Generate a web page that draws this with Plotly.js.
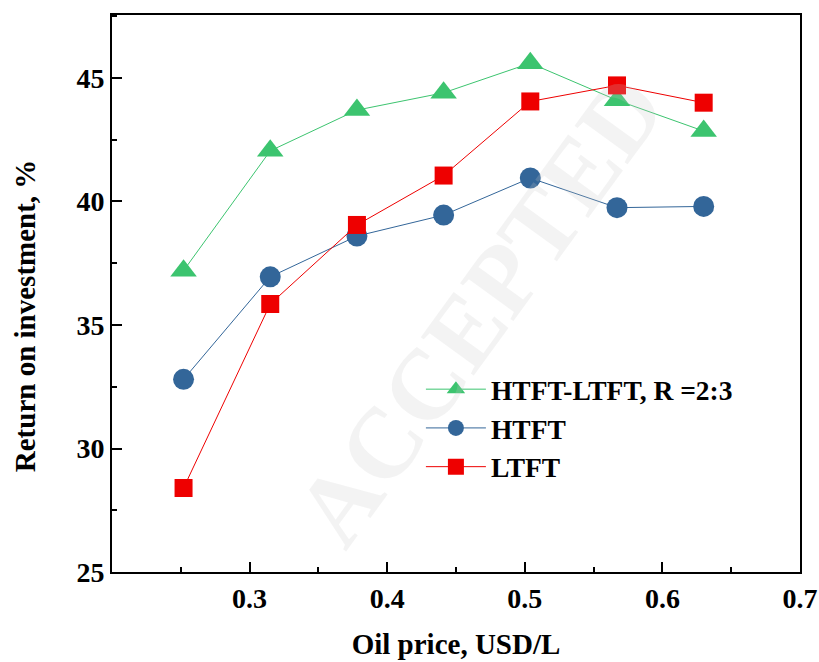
<!DOCTYPE html>
<html><head><meta charset="utf-8">
<script src="https://cdn.plot.ly/plotly-3.0.1.min.js"></script>
<style>html,body{margin:0;padding:0;background:#fff}#chart{width:819px;height:662px}</style>
</head><body><div id="chart"></div>
<script>
const oilPrice = [0.252, 0.315, 0.378, 0.441, 0.504, 0.567, 0.630];
const hybridROI = [37.2, 42.05, 43.7, 44.4, 45.6, 44.1, 42.85];
const htftROI = [32.8, 36.95, 38.6, 39.45, 40.95, 39.75, 39.8];
const ltftROI = [28.4, 35.85, 39.05, 41.05, 44.05, 44.7, 44.0];
const seriesNames = ['HTFT-LTFT, R =2:3', 'HTFT', 'LTFT'];
const xTicks = [0.3, 0.4, 0.5, 0.6, 0.7];
const yTicks = [25, 30, 35, 40, 45];

const fam = 'Liberation Serif, Times New Roman, serif';
const bf = (s) => ({family: fam, color: '#000', weight: 700, size: s});
const b = (t) => '<b>' + t + '</b>';
const traces = [
  {x: oilPrice, y: hybridROI, name: b(seriesNames[0]), mode: 'lines+markers',
   line: {color: '#3cc46f', width: 1}, marker: {symbol: 'triangle-up', size: 23, color: '#3cc46f'}},
  {x: oilPrice, y: htftROI, name: b(seriesNames[1]), mode: 'lines+markers',
   line: {color: '#336699', width: 1}, marker: {symbol: 'circle', size: 21, color: '#336699'}},
  {x: oilPrice, y: ltftROI, name: b(seriesNames[2]), mode: 'lines+markers',
   line: {color: '#ee0000', width: 1}, marker: {symbol: 'square', size: 18, color: '#ee0000'}}
];
const layout = {
  width: 819, height: 662,
  margin: {l: 112, r: 19, t: 15, b: 90},
  paper_bgcolor: '#fff', plot_bgcolor: '#fff',
  font: bf(26),
  showlegend: true,
  legend: {x: 0.449, y: 0.372, xanchor: 'left', yanchor: 'top', bgcolor: 'rgba(0,0,0,0)',
    font: bf(27.5), tracegroupgap: 0, itemwidth: 60},
  xaxis: {range: [0.2, 0.7], tickvals: xTicks, ticktext: xTicks.map(v => b(v.toFixed(1))),
    ticks: 'inside', ticklen: 10, tickwidth: 2, tickcolor: '#000',
    minor: {dtick: 0.05, tick0: 0.2, ticks: 'inside', ticklen: 5, tickwidth: 2, tickcolor: '#000'},
    showline: true, linewidth: 2, linecolor: '#000', mirror: true, showgrid: false, zeroline: false,
    tickfont: bf(28),
    title: {text: b('Oil price, USD/L'), font: bf(29), standoff: 21}},
  yaxis: {range: [25, 47.55], tickvals: yTicks, ticktext: yTicks.map(v => b(String(v))),
    ticks: 'inside', ticklen: 10, tickwidth: 2, tickcolor: '#000',
    minor: {dtick: 2.5, tick0: 25, ticks: 'inside', ticklen: 5, tickwidth: 2, tickcolor: '#000'},
    showline: true, linewidth: 2, linecolor: '#000', mirror: true, showgrid: false, zeroline: false,
    tickfont: bf(28)},
  annotations: [
    {text: b('Return on investment, %'), xref: 'paper', yref: 'paper', x: -0.1265, y: 0.461,
     xanchor: 'center', yanchor: 'middle', showarrow: false, textangle: -90, font: bf(29)},
    {text: 'ACCEPTED', xref: 'paper', yref: 'paper', x: 0.23, y: 0.47,
     showarrow: false, textangle: -54,
     font: {family: fam, size: 100, color: 'rgba(200,200,200,0.22)'}}]
};
Plotly.newPlot('chart', traces, layout, {displayModeBar: false, staticPlot: true});
</script></body></html>
